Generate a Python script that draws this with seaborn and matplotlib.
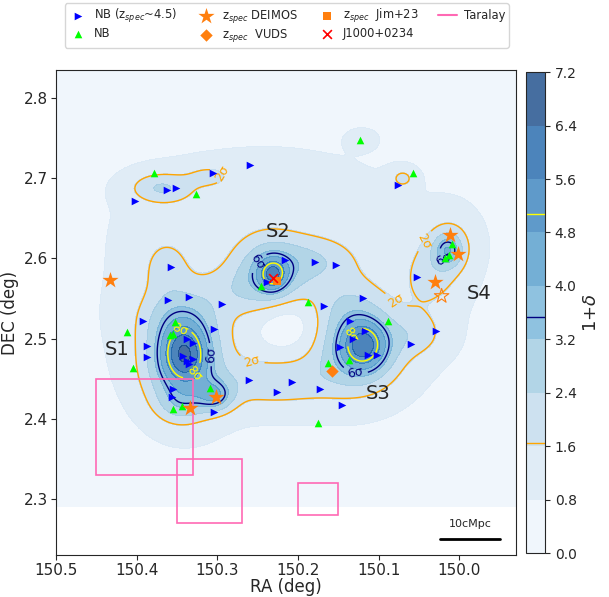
import numpy as np
import matplotlib
matplotlib.use('Agg')
import matplotlib.pyplot as plt
import seaborn as sns
from matplotlib.patches import Rectangle

sns.set_style('ticks')
plt.rcParams['font.family'] = ['DejaVu Sans']

# NB emitters (z_spec ~ 4.5), RA / DEC in deg
nb45_ra = [150.260, 150.305, 150.351, 150.362, 150.402, 150.076,
           150.357, 150.216, 150.179, 150.153, 150.239, 150.168, 150.120, 150.053,
           150.361, 150.335, 150.294, 150.392, 150.304, 150.338, 150.330, 150.387,
           150.387, 150.343, 150.338, 150.335, 150.330,
           150.261, 150.226, 150.208, 150.173, 150.146, 150.355, 150.356, 150.304,
           150.136, 150.117, 150.132, 150.148, 150.113, 150.102, 150.060, 150.029]
nb45_dec = [2.716, 2.707, 2.688, 2.685, 2.672, 2.692,
            2.589, 2.598, 2.596, 2.592, 2.570, 2.540, 2.550, 2.577,
            2.548, 2.552, 2.543, 2.522, 2.512, 2.499, 2.494, 2.491,
            2.477, 2.478, 2.472, 2.468, 2.475,
            2.448, 2.433, 2.446, 2.437, 2.417, 2.437, 2.427, 2.408,
            2.522, 2.509, 2.499, 2.489, 2.479, 2.479, 2.493, 2.510]

# NB emitters
nb_ra = [150.379, 150.327, 150.123, 150.058, 150.246, 150.188, 150.089,
         150.412, 150.353, 150.359, 150.355, 150.405, 150.309, 150.355, 150.344,
         150.175, 150.137, 150.163, 150.009, 150.013, 150.018]
nb_dec = [2.707, 2.680, 2.748, 2.706, 2.565, 2.546, 2.522,
          2.508, 2.521, 2.505, 2.506, 2.463, 2.438, 2.412, 2.416,
          2.395, 2.473, 2.469, 2.618, 2.604, 2.600]

# spectroscopic redshifts
deimos_ra = [150.433, 150.334, 150.302, 150.011, 150.002, 150.030]
deimos_dec = [2.573, 2.413, 2.427, 2.629, 2.606, 2.571]
deimos_open_ra = [150.022]
deimos_open_dec = [2.553]
vuds_ra = [150.158]
vuds_dec = [2.460]
jim_ra = [150.226]
jim_dec = [2.572]
qso_ra = [150.231]
qso_dec = [2.576]

# Taralay fields: ra_max, ra_min, dec_min, dec_max
taralay_ra0 = [150.45, 150.35, 150.20]
taralay_ra1 = [150.33, 150.27, 150.15]
taralay_dec0 = [2.33, 2.27, 2.28]
taralay_dec1 = [2.45, 2.35, 2.32]

# overdensity components (1+delta)
bg_level = 0.35
blob_ra = [150.340, 150.345, 150.302, 150.345, 150.350, 150.365,
           150.231, 150.235, 150.180, 150.280,
           150.118, 150.125, 150.050, 150.140, 150.230,
           150.014, 150.010, 150.035,
           150.370, 150.310, 150.070, 150.120,
           150.220, 150.250, 150.212]
blob_dec = [2.482, 2.470, 2.428, 2.418, 2.530, 2.590,
            2.580, 2.582, 2.597, 2.560,
            2.492, 2.488, 2.505, 2.545, 2.445,
            2.610, 2.620, 2.578,
            2.688, 2.703, 2.700, 2.750,
            2.530, 2.680, 2.515]
blob_amp = [2.8, 2.8, 2.0, 0.9, 0.9, 0.9,
            2.2, 2.3, 1.1, 0.6,
            2.8, 2.4, 0.9, 0.7, 1.2,
            2.0, 1.0, 1.0,
            1.6, 0.9, 1.1, 0.5,
            0.85, 0.45, -1.1]
blob_sra = [0.020, 0.035, 0.016, 0.020, 0.035, 0.020,
            0.012, 0.028, 0.035, 0.030,
            0.020, 0.038, 0.025, 0.030, 0.055,
            0.012, 0.025, 0.025,
            0.028, 0.020, 0.012, 0.015,
            0.180, 0.160, 0.030]
blob_sdec = [0.026, 0.048, 0.014, 0.015, 0.025, 0.025,
             0.014, 0.028, 0.020, 0.020,
             0.022, 0.038, 0.020, 0.025, 0.022,
             0.014, 0.030, 0.030,
             0.014, 0.010, 0.010, 0.010,
             0.110, 0.070, 0.024]

levels = np.arange(0, 7.21, 0.8)
sig_levels = [1.64, 3.54, 5.08]
sig_colors = ['orange', 'navy', 'yellow']
sig_names = ['2σ', '6σ', '8σ']

gx = np.linspace(150.5, 149.93, 300)
gy = np.linspace(2.29, 2.835, 300)
X, Y = np.meshgrid(gx, gy)
Z = np.full_like(X, bg_level)
for ra, dec, a, sr, sd in zip(blob_ra, blob_dec, blob_amp, blob_sra, blob_sdec):
    Z += a * np.exp(-0.5 * (((X - ra) / sr) ** 2 + ((Y - dec) / sd) ** 2))
Z = np.clip(Z, 0.01, 7.19)

fig = plt.figure(figsize=(6.09, 5.97), dpi=100)
ax = fig.add_axes([0.092, 0.0704, 0.755, 0.8123])
cax = fig.add_axes([0.864, 0.0737, 0.031, 0.8053])

cf = ax.contourf(X, Y, Z, levels=levels, cmap='Blues', alpha=0.75)
line_sets = []
for lev, col in zip(sig_levels, sig_colors):
    cs = ax.contour(X, Y, Z, levels=[lev], colors=col, linewidths=1)
    line_sets.append(cs)

label_pos = [
    [(150.275, 2.72), (150.259, 2.466), (150.094, 2.528), (150.040, 2.620)],
    [(150.247, 2.593), (150.307, 2.480), (150.130, 2.454), (150.020, 2.598)],
    [(150.346, 2.509), (150.303, 2.439), (150.136, 2.505)],
]
for cs, name, pos in zip(line_sets, sig_names, label_pos):
    ax.clabel(cs, fmt={cs.levels[0]: name}, manual=pos, fontsize=9, inline=True)

sns.scatterplot(x=nb45_ra, y=nb45_dec, marker='>', color='blue', s=30, linewidth=0,
                label='NB (z$_{spec}$~4.5)', ax=ax, zorder=5)
sns.scatterplot(x=nb_ra, y=nb_dec, marker='^', color='lime', s=30, linewidth=0,
                label='NB', ax=ax, zorder=5)
sns.scatterplot(x=deimos_ra, y=deimos_dec, marker='*', color='tab:orange', s=150, linewidth=0,
                label='z$_{spec}$ DEIMOS', ax=ax, zorder=6)
ax.scatter(deimos_open_ra, deimos_open_dec, marker='*', s=120, facecolors='none',
           edgecolors='tab:orange', linewidths=0.8, zorder=6)
sns.scatterplot(x=vuds_ra, y=vuds_dec, marker='D', color='tab:orange', s=40, linewidth=0,
                label='z$_{spec}$  VUDS', ax=ax, zorder=6)
sns.scatterplot(x=jim_ra, y=jim_dec, marker='s', color='tab:orange', s=40, linewidth=0,
                label='z$_{spec}$  Jim+23', ax=ax, zorder=6)
sns.scatterplot(x=qso_ra, y=qso_dec, marker='x', color='red', s=40, linewidth=1.2,
                label='J1000+0234', ax=ax, zorder=7)

for r0, r1, d0, d1 in zip(taralay_ra0, taralay_ra1, taralay_dec0, taralay_dec1):
    ax.add_patch(Rectangle((r1, d0), r0 - r1, d1 - d0, fill=False, edgecolor='hotpink',
                           linewidth=1.2, zorder=4))
ax.plot([], [], color='hotpink', label='Taralay')

# structure names
for txt, ra, dec in [('S1', 150.424, 2.486), ('S2', 150.225, 2.633),
                     ('S3', 150.101, 2.431), ('S4', 149.975, 2.556)]:
    ax.text(ra, dec, txt, fontsize=14, ha='center', va='center', zorder=8)

# scale bar
ax.plot([150.024, 149.950], [2.250, 2.250], color='black', lw=2)
ax.text(149.987, 2.262, '10cMpc', fontsize=8, ha='center', va='bottom')

ax.set_xlim(150.5, 149.93)
ax.set_ylim(2.23, 2.835)
ax.set_xticks([150.5, 150.4, 150.3, 150.2, 150.1, 150.0])
ax.set_yticks([2.3, 2.4, 2.5, 2.6, 2.7, 2.8])
ax.tick_params(labelsize=11, length=3.5, width=0.8, pad=2)
ax.set_xlabel('RA (deg)', fontsize=12, labelpad=0)
ax.set_ylabel('DEC (deg)', fontsize=12, labelpad=4)

handles, labels = ax.get_legend_handles_labels()
ax.legend_.remove()
fig.legend(handles, labels, loc='upper center',
           bbox_to_anchor=(0.471, 1.004), ncol=4, fontsize=8.3, frameon=True,
           handlelength=1.6, columnspacing=1.7, borderpad=0.3, labelspacing=0.2,
           handletextpad=0.6)

cbar = fig.colorbar(cf, cax=cax, ticks=levels)
for cs in line_sets:
    cbar.add_lines(cs, erase=False)
cbar.set_label('1+$\\delta$', fontsize=13)
cbar.ax.tick_params(labelsize=10, length=3.5, width=0.8)

fig.savefig('out.png', dpi=100)
